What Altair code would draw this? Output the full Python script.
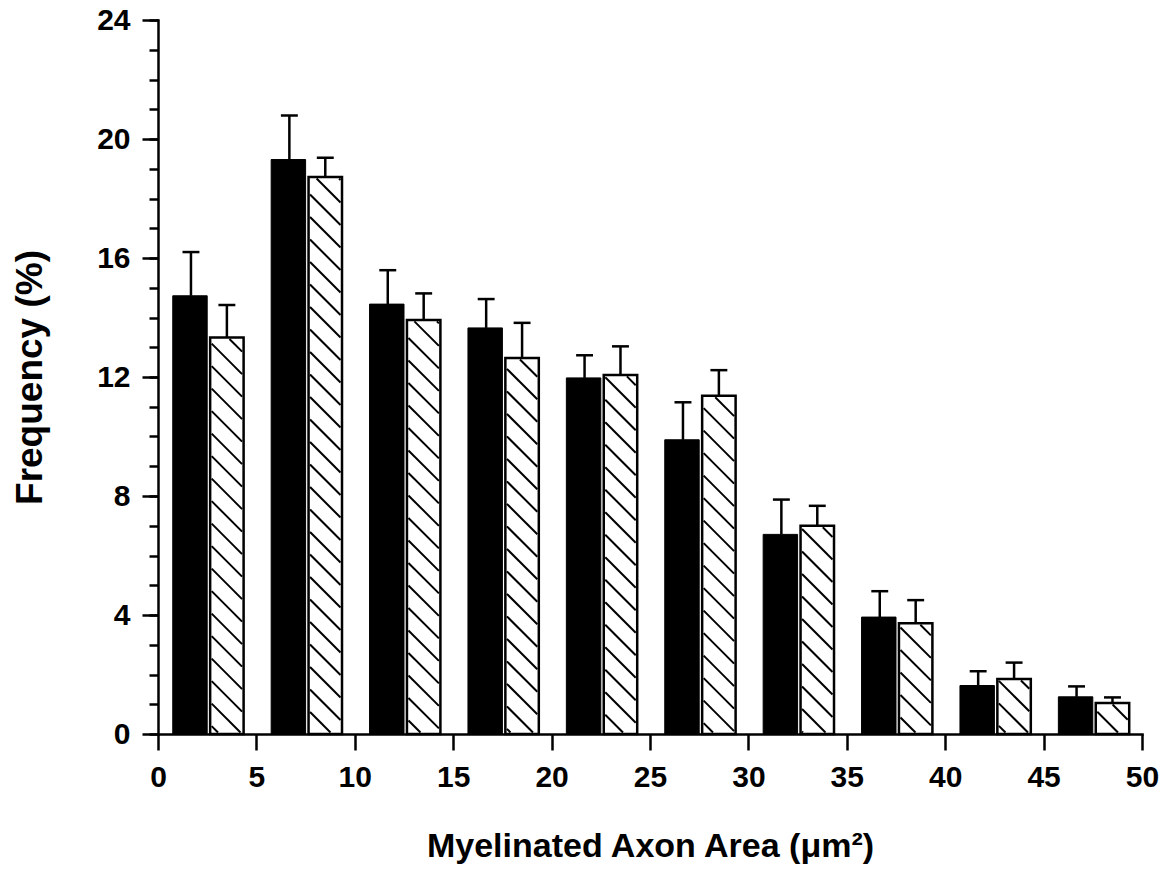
import altair as alt
import pandas as pd

# ---- data ----
bin_starts = [0, 5, 10, 15, 20, 25, 30, 35, 40, 45]
black_vals = [14.73, 19.31, 14.45, 13.65, 11.97, 9.89, 6.71, 3.93, 1.63, 1.25]
black_err = [1.47, 1.48, 1.14, 0.97, 0.76, 1.26, 1.17, 0.87, 0.48, 0.35]
hatch_vals = [13.33, 18.72, 13.92, 12.64, 12.07, 11.37, 7.00, 3.72, 1.85, 1.04]
hatch_err = [1.09, 0.65, 0.89, 1.18, 0.96, 0.86, 0.67, 0.78, 0.55, 0.19]

x_ticks = [0, 5, 10, 15, 20, 25, 30, 35, 40, 45, 50]
y_major = [0, 4, 8, 12, 16, 20, 24]
y_minor = list(range(0, 25))

# ---- layout ----
W, H = 984, 714
XMAX, YMAX = 50, 24
FONT = "Liberation Sans"

# bar placement inside each 5-unit bin
B0, B1 = 0.75, 2.5
H0, H1 = 2.65, 4.35
CAP = 0.43

rows = []
for b, v, e, hv, he in zip(bin_starts, black_vals, black_err, hatch_vals, hatch_err):
    rows.append(dict(kind="black", x=b + B0, x2=b + B1, xc=b + (B0 + B1) / 2 + 0.05,
                     v=v, top=v + e))
    rows.append(dict(kind="hatch", x=b + H0, x2=b + H1, xc=b + (H0 + H1) / 2,
                     v=hv, top=hv + he))
df = pd.DataFrame(rows)
df["cx0"] = df["xc"] - CAP
df["cx1"] = df["xc"] + CAP
df["zero"] = 0.0

# hatch lines ("\" direction, 45 degrees in pixel space) clipped to each hatched bar
sx, sy = W / XMAX, H / YMAX
spacing = 22.5
inset = 1.5
seg = []
for r in df[df.kind == "hatch"].itertuples():
    x0, x1 = r.x * sx + inset, r.x2 * sx - inset
    yt, yb = (YMAX - r.v) * sy + inset, H - inset
    k0 = int((yt - x1) // spacing) - 1
    k1 = int((yb - x0) // spacing) + 1
    for k in range(k0, k1 + 1):
        c = k * spacing
        xa = max(x0, yt - c)
        xb = min(x1, yb - c)
        if xb - xa > 0.5:
            seg.append(dict(hx=xa / sx, hx2=xb / sx,
                            hy=YMAX - (xa + c) / sy, hy2=YMAX - (xb + c) / sy))
hdf = pd.DataFrame(seg)

xs = alt.Scale(domain=[0, XMAX], nice=False, zero=False)
ys = alt.Scale(domain=[0, YMAX], nice=False)

x_axis = alt.Axis(
    values=x_ticks, tickSize=16, labelPadding=12, labelFontSize=30,
    labelFlush=False, labelOverlap=False,
    title="Myelinated Axon Area (μm²)", titleFontSize=34, titleY=122,
    titleBaseline="alphabetic", orient="bottom")


def X(field):
    return alt.X(field, scale=xs, axis=x_axis, title="Myelinated Axon Area (μm²)")


base = alt.Chart(df)

black_bars = base.transform_filter(alt.datum.kind == "black").mark_rect(
    color="black", stroke="black", strokeWidth=1
).encode(
    x=X("x:Q"),
    x2="x2:Q",
    y=alt.Y("v:Q", scale=ys, axis=alt.Axis(
        values=y_major, tickSize=16, labelPadding=12, labelFontSize=30,
        labelFlush=False, labelOverlap=False,
        title="Frequency (%)", titleFontSize=37, titleX=-128,
        titleBaseline="middle", titleAlign="center", orient="left")),
    y2="zero:Q",
)

hatch_fill = base.transform_filter(alt.datum.kind == "hatch").mark_rect(
    color="white"
).encode(
    x=X("x:Q"), x2="x2:Q",
    y=alt.Y("v:Q", scale=ys, axis=None), y2="zero:Q",
)

hatch_lines = alt.Chart(hdf).mark_rule(color="black", strokeWidth=2).encode(
    x=X("hx:Q"), x2="hx2:Q",
    y=alt.Y("hy:Q", scale=ys, axis=None), y2="hy2:Q",
)

hatch_outline = base.transform_filter(alt.datum.kind == "hatch").mark_rect(
    fillOpacity=0, stroke="black", strokeWidth=2.5
).encode(
    x=X("x:Q"), x2="x2:Q",
    y=alt.Y("v:Q", scale=ys, axis=None), y2="zero:Q",
)

err_line = base.mark_rule(color="black", strokeWidth=2.5).encode(
    x=X("xc:Q"),
    y=alt.Y("v:Q", scale=ys, axis=alt.Axis(
        values=y_minor, tickSize=9, labels=False, domain=False, title=None,
        orient="left")),
    y2="top:Q",
)

err_cap = base.mark_rule(color="black", strokeWidth=2.5).encode(
    x=X("cx0:Q"), x2="cx1:Q",
    y=alt.Y("top:Q", scale=ys, axis=None),
)

chart = alt.layer(
    black_bars, hatch_fill, hatch_lines, hatch_outline, err_line, err_cap
).resolve_axis(y="independent").properties(
    width=W, height=H,
    autosize=alt.AutoSizeParams(type="none"),
    padding={"left": 158, "top": 20, "right": 18, "bottom": 142},
    background="white",
).configure_view(stroke=None).configure_axis(
    grid=False, domainColor="black", domainWidth=2.5, tickColor="black",
    tickWidth=2.5, labelColor="black", titleColor="black",
    labelFont=FONT, titleFont=FONT, labelFontWeight="bold", titleFontWeight="bold",
    domainCap="square",
)

chart.save("out.html", embed_options={"renderer": "svg", "actions": False})
